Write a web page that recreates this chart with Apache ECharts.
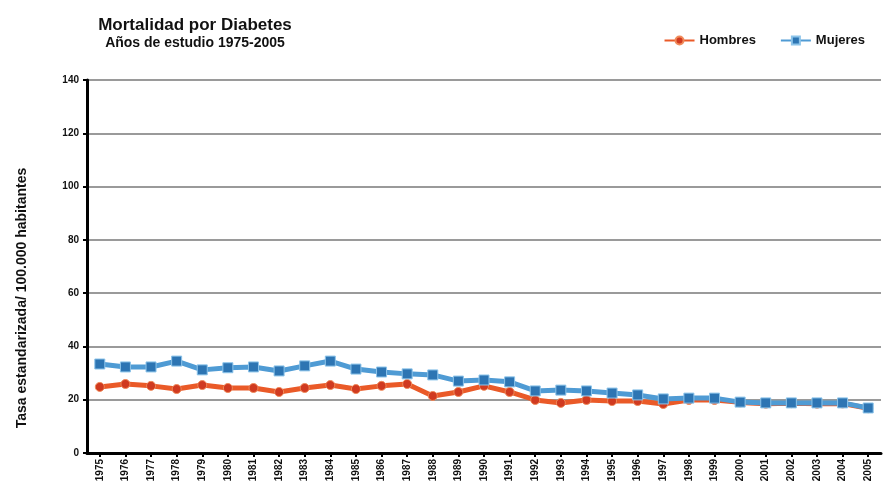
<!DOCTYPE html>
<html>
<head>
<meta charset="utf-8">
<script src="https://cdn.jsdelivr.net/npm/echarts@6/dist/echarts.min.js"></script>
<style>
  html, body { margin: 0; padding: 0; background: #fff; }
  #chart { width: 884px; height: 498px; }
</style>
</head>
<body>
<div id="chart"></div>
<script>
// Years of the study period
const years = ['1975','1976','1977','1978','1979','1980','1981','1982','1983','1984',
  '1985','1986','1987','1988','1989','1990','1991','1992','1993','1994','1995',
  '1996','1997','1998','1999','2000','2001','2002','2003','2004','2005'];

// Standardised diabetes mortality rate per 100,000 inhabitants
const hombres = [24.8, 25.9, 25.2, 24.0, 25.5, 24.4, 24.4, 22.9, 24.4, 25.5,
  24.0, 25.2, 25.9, 21.4, 22.9, 25.2, 22.9, 19.9, 18.8, 19.9, 19.5,
  19.5, 18.4, 19.9, 19.9, 19.0, 18.5, 18.7, 18.5, 18.6, 16.8];
const mujeres = [33.4, 32.3, 32.3, 34.5, 31.2, 32.0, 32.3, 30.8, 32.7, 34.5,
  31.5, 30.4, 29.7, 29.3, 27.0, 27.4, 26.7, 23.3, 23.6, 23.3, 22.5,
  21.8, 20.3, 20.6, 20.6, 19.1, 18.8, 18.8, 18.8, 18.8, 16.9];

const yTicks = { min: 0, max: 140, interval: 20 };

const font = 'Liberation Sans, Arial, sans-serif';
const chart = echarts.init(document.getElementById('chart'));

chart.setOption({
  animation: false,
  backgroundColor: '#fff',
  title: {
    text: 'Mortalidad por Diabetes',
    subtext: 'Años de estudio 1975-2005',
    left: 190, top: 12, textAlign: 'center',
    itemGap: 2,
    textStyle: { fontFamily: font, fontWeight: 'bold', fontSize: 17, color: '#111' },
    subtextStyle: { fontFamily: font, fontWeight: 'bold', fontSize: 14, color: '#111' }
  },
  legend: {
    right: 14, top: 29,
    itemWidth: 30, itemHeight: 10, itemGap: 24,
    textStyle: { fontFamily: font, fontWeight: 'bold', fontSize: 13, color: '#111' },
    data: ['Hombres', 'Mujeres']
  },
  grid: { left: 87, right: 3, top: 80, bottom: 45 },
  xAxis: {
    type: 'category',
    data: years,
    boundaryGap: true,
    axisLine: { lineStyle: { color: '#000', width: 3 } },
    axisTick: { show: true, alignWithLabel: true, length: 4, lineStyle: { color: '#000', width: 2 } },
    axisLabel: { rotate: 90, interval: 0, fontFamily: font, fontWeight: 'bold', fontSize: 10, color: '#111', margin: 6 }
  },
  yAxis: {
    type: 'value',
    min: yTicks.min, max: yTicks.max, interval: yTicks.interval,
    axisLine: { show: true, lineStyle: { color: '#000', width: 3 } },
    axisTick: { show: true, length: 4, lineStyle: { color: '#000', width: 2 } },
    axisLabel: { fontFamily: font, fontWeight: 'bold', fontSize: 10, color: '#111', margin: 8 },
    splitLine: { lineStyle: { color: '#9a9a9a', width: 2 } }
  },
  graphic: [{
    type: 'text',
    x: 22, y: 298,
    rotation: Math.PI / 2,
    style: {
      text: 'Tasa estandarizada/ 100.000 habitantes',
      fontFamily: font, fontWeight: 'bold', fontSize: 14, fill: '#111',
      textAlign: 'center', textVerticalAlign: 'middle'
    }
  }],
  series: [
    {
      name: 'Hombres', type: 'line', data: hombres,
      symbol: 'circle', symbolSize: 9,
      lineStyle: { color: '#ea5a28', width: 5 },
      itemStyle: { color: '#d03a20', borderColor: '#f08a5a', borderWidth: 1 },
      z: 2
    },
    {
      name: 'Mujeres', type: 'line', data: mujeres,
      symbol: 'rect', symbolSize: 10,
      lineStyle: { color: '#4f9bd4', width: 5 },
      itemStyle: { color: '#2d75b3', borderColor: '#8cc4ea', borderWidth: 1 },
      z: 3
    }
  ]
});
</script>
</body>
</html>
